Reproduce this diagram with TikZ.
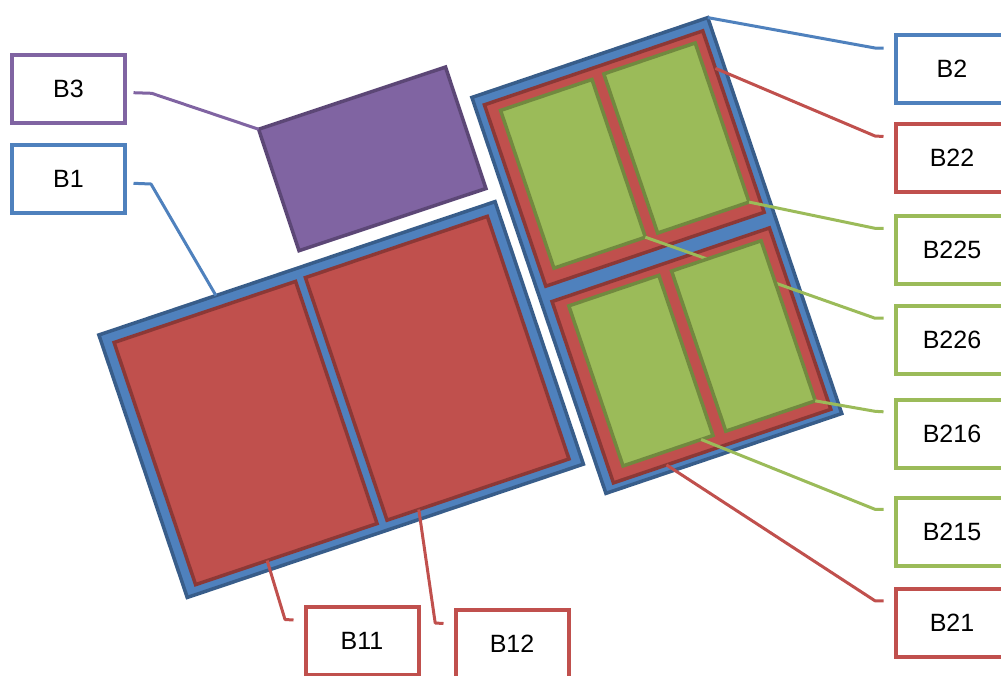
\documentclass[tikz,border=0pt]{standalone}
\usepackage{fontspec}
\setmainfont{Liberation Sans}
\usetikzlibrary{calc}
\definecolor{cblue}{HTML}{4F81BD}
\definecolor{dblue}{HTML}{385D8A}
\definecolor{cred}{HTML}{C0504D}
\definecolor{dred}{HTML}{8C3836}
\definecolor{cgreen}{HTML}{9BBB59}
\definecolor{dgreen}{HTML}{71893F}
\definecolor{cpurple}{HTML}{8064A2}
\definecolor{dpurple}{HTML}{5C4776}
\begin{document}
\begin{tikzpicture}[x=1pt,y=-1pt,
  lbox/.style={draw=#1, fill=white, line width=4pt, minimum width=113pt, minimum height=68pt, inner sep=0pt, font=\fontsize{25}{30}\selectfont, text=black},
  conn/.style={draw=#1, line width=3pt, line join=round},
  bluefill/.style={fill=cblue, draw=dblue, line width=3.5pt},
  redfill/.style={fill=cred, draw=dred, line width=3.5pt},
  greenfill/.style={fill=cgreen, draw=dgreen, line width=3.5pt},
  purplefill/.style={fill=cpurple, draw=dpurple, line width=3.5pt},
  bonef/.style={shift={(97,334)},rotate=18.6},
  btwof/.style={shift={(470,96.5)},rotate=18.7},
  bthreef/.style={shift={(256.7,128.3)},rotate=18.4}]
\useasboundingbox (0,0) rectangle (1001,675);
\clip (0,0) rectangle (1001,675);

% label boxes
\node[lbox=cpurple] (lB3) at (68.5,88.5) {B3};
\node[lbox=cblue] (lB1) at (68.5,179) {B1};
\node[lbox=cblue] (lB2) at (952,69) {B2};
\node[lbox=cred] (lB22) at (952,158) {B22};
\node[lbox=cgreen] (lB225) at (952,249.5) {B225};
\node[lbox=cgreen] (lB226) at (952,339.7) {B226};
\node[lbox=cgreen] (lB216) at (952,433.8) {B216};
\node[lbox=cgreen] (lB215) at (952,531.7) {B215};
\node[lbox=cred] (lB21) at (952,622.8) {B21};
\node[lbox=cred] (lB11) at (362,641) {B11};
\node[lbox=cred] (lB12) at (512,644) {B12};

% B3
\begin{scope}[bthreef]
  \filldraw[purplefill] (1.5,1.5) rectangle (198.5,129.5);
  \coordinate (tB3) at (1.5,1.5);
\end{scope}

% B1
\begin{scope}[bonef]
  \filldraw[bluefill] (1.5,1.5) rectangle (419.5,278.5);
  \filldraw[redfill] (13.5,13.5) rectangle (205,269);
  \filldraw[redfill] (215.5,13) rectangle (407.5,269);
  \coordinate (tB1) at (125,1.5);
  \coordinate (tB11) at (89,269);
  \coordinate (tB12) at (249,269);
\end{scope}

% B2
\begin{scope}[btwof]
  \filldraw[bluefill] (1.5,1.5) rectangle (250.5,419.5);
  \filldraw[redfill] (11,12.5) rectangle (241.5,204);
  \filldraw[greenfill] (24.5,23) rectangle (121,189.5);
  \filldraw[greenfill] (134,21.5) rectangle (230.5,189.5);
  \filldraw[redfill] (12,220.5) rectangle (241.5,412);
  \coordinate (tB2) at (250.5,1.5);
  \coordinate (tB22) at (241.5,52);
  \coordinate (tB225) at (230.5,189.5);
  \coordinate (tB226) at (121,189.5);
  \coordinate (tB216) at (229.5,399);
  \coordinate (tB215) at (109,399);
  \coordinate (tB21) at (68,412);
\end{scope}

% B226 callout passes beneath the B21 cells
\draw[conn=cgreen] (tB226) -- ($(lB226.west)+(-18.5,-21.5)$) -- ($(lB226.west)+(-10,-21.5)$);

\begin{scope}[btwof]
  \filldraw[greenfill] (26.5,230) rectangle (121.5,399);
  \filldraw[greenfill] (135,230) rectangle (229.5,399);
\end{scope}

% callouts
\draw[conn=cpurple] (tB3) -- ($(lB3.east)+(24.7,4.8)$) -- ($(lB3.east)+(6.5,4.2)$);
\draw[conn=cblue] (tB1) -- ($(lB1.east)+(24,5)$) -- ($(lB1.east)+(6.5,4.3)$);
\draw[conn=cred] (tB11) -- ($(lB11.west)+(-18.5,-21.5)$) -- ($(lB11.west)+(-10,-21)$);
\draw[conn=cred] (tB12) -- ($(lB12.west)+(-18.3,-21)$) -- ($(lB12.west)+(-10,-20.5)$);
\draw[conn=cblue] (tB2) -- ($(lB2.west)+(-18.5,-21)$) -- ($(lB2.west)+(-10,-21)$);
\draw[conn=cred] (tB22) -- ($(lB22.west)+(-18.5,-22)$) -- ($(lB22.west)+(-10,-21.5)$);
\draw[conn=cgreen] (tB225) -- ($(lB225.west)+(-18.5,-21.2)$) -- ($(lB225.west)+(-10,-21.2)$);
\draw[conn=cgreen] (tB216) -- ($(lB216.west)+(-18.5,-22.5)$) -- ($(lB216.west)+(-10,-22)$);
\draw[conn=cgreen] (tB215) -- ($(lB215.west)+(-18.5,-22.4)$) -- ($(lB215.west)+(-10,-22.4)$);
\draw[conn=cred] (tB21) -- ($(lB21.west)+(-18.5,-22)$) -- ($(lB21.west)+(-10,-22)$);
\end{tikzpicture}
\end{document}
